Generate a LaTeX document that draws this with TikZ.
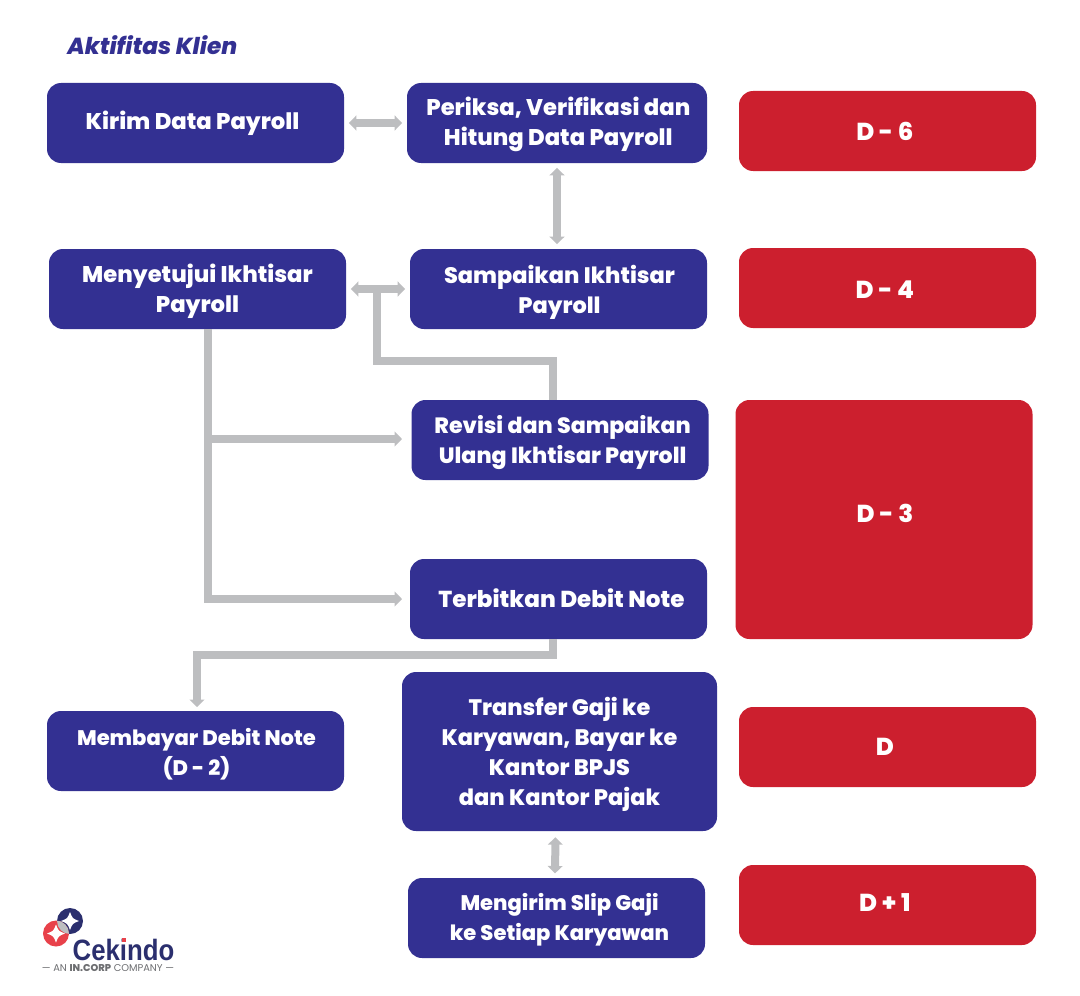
\documentclass[tikz,border=0pt]{standalone}
\usepackage{fontspec}
\setmainfont{Poppins}[BoldFont={Poppins ExtraBold},BoldItalicFont={Poppins ExtraBold Italic}]
\newfontfamily\logofont{Liberation Sans}
\usetikzlibrary{arrows.meta}
\definecolor{navybox}{HTML}{333092}
\definecolor{redbox}{HTML}{CC1F2E}
\definecolor{linkgray}{HTML}{BDBEC0}
\definecolor{logoblue}{HTML}{2B2F6E}
\definecolor{logored}{HTML}{E8414A}
\definecolor{logotext}{HTML}{6D6E71}
\tikzset{
	bluebox/.style={fill=navybox,rounded corners=10.5pt,inner sep=0pt,minimum width=222.75pt,minimum height=60pt},
	redcard/.style={bluebox,fill=redbox},
	boxtext/.style={text=white,inner sep=0pt,align=center,font=\fontsize{#1}{22.5}\selectfont\bfseries},
	boxtext/.default=16.6,
	link/.style={draw=linkgray,line width=6pt,>={Triangle[width=11pt,length=5.5pt]}},
}
\begin{document}
\begin{tikzpicture}[x=0.75pt,y=-0.75pt]
	\useasboundingbox (0,0) rectangle (1080,995);

	\node[text=navybox,inner sep=0pt,font=\fontsize{17.4}{20}\selectfont\bfseries\itshape,anchor=west] (judul) at (67,45.5) {Aktifitas Klien};

	\node[bluebox,label={[boxtext=17,xshift=-2.25pt]center:{Kirim Data Payroll}}] (kirim) at (195.5,123) {};
	\node[bluebox,minimum width=225pt,label={[boxtext=17,xshift=1pt,yshift=-0.75pt]center:{Periksa, Verifikasi dan\\Hitung Data Payroll}}] (periksa) at (557,123) {};
	\node[bluebox,label={[boxtext=17,yshift=-1.5pt]center:{Menyetujui Ikhtisar\\Payroll}}] (setuju) at (197.5,289) {};
	\node[bluebox,label={[boxtext=16.8,xshift=0.75pt,yshift=-2.25pt]center:{Sampaikan Ikhtisar\\Payroll}}] (sampaikan) at (558.5,289) {};
	\node[bluebox,label={[boxtext,xshift=2pt,yshift=-2.25pt]center:{Revisi dan Sampaikan\\Ulang Ikhtisar Payroll}}] (revisi) at (560,440) {};
	\node[bluebox,label={[boxtext=17.3,xshift=2.25pt,yshift=0.75pt]center:{Terbitkan Debit Note}}] (terbit) at (558.5,599) {};
	\node[bluebox,label={[boxtext=15.8,xshift=0.75pt,yshift=-2.25pt]center:{Membayar Debit Note\\(D - 2)}}] (bayar) at (195.5,751) {};
	\node[bluebox,minimum width=236.25pt,minimum height=119.25pt,label={[boxtext=16.8,yshift=-2.25pt]center:{Transfer Gaji ke\\Karyawan, Bayar ke\\Kantor BPJS\\dan Kantor Pajak}}] (transfer) at (559.5,751.5) {};
	\node[bluebox,label={[boxtext=15.8,xshift=2.25pt,yshift=-1.5pt]center:{Mengirim Slip Gaji\\ke Setiap Karyawan}}] (slip) at (556.5,918) {};

	\node[redcard,label={[boxtext=18.4,xshift=-2pt]center:{D - 6}}] (dsix) at (887.5,131) {};
	\node[redcard,label={[boxtext=18.4,xshift=-2pt,yshift=-1.5pt]center:{D - 4}}] (dfour) at (887.5,288) {};
	\node[redcard,minimum height=179.25pt,label={[boxtext=18.4,xshift=0.75pt,yshift=4.5pt]center:{D - 3}}] (dthree) at (884,519.5) {};
	\node[redcard,label={[boxtext=18.4,xshift=-2pt]center:{D}}] (dzero) at (887.5,747) {};
	\node[redcard,label={[boxtext=18.4,xshift=-2pt,yshift=1.5pt]center:{D + 1}}] (dplus) at (887.5,905) {};

	\coordinate (tee) at (377,289);
	\coordinate (belok) at (377,361);
	\coordinate (naik) at (553,361);
	\coordinate (akar) at (208,329);
	\coordinate (cabang) at (208,439);
	\coordinate (siku) at (208,599);

	\draw[link,<->,shorten <=3.5pt,shorten >=3.5pt] (kirim) -- (periksa);
	\draw[link,<->,shorten <=3.5pt,shorten >=3.5pt] (periksa.south) -- (periksa.south |- sampaikan.north);
	\draw[link,<->,shorten <=3.5pt,shorten >=3.5pt] (setuju) -- (sampaikan);
	\draw[link] (naik |- revisi.north) -- (naik) -- (belok) -- (tee);
	\draw[link,->] (akar) -- (siku) -- ++(194,0);
	\draw[link,->] (cabang) -- ++(194,0);
	\draw[link,->] (terbit.south -| naik) -- (553,655) -- (197,655) -- (197,707);
	\draw[link,<->,shorten <=4.5pt,shorten >=3.5pt] (transfer.south -| slip.north) ++(-1,0) -- (555,878);

	% logo
	\fill[logoblue] (70,921) circle [radius=13];
	\fill[logored] (56,933.5) circle [radius=13];
	\begin{scope}
		\clip (70,921) circle [radius=13];
		\fill[linkgray] (56,933.5) circle [radius=13];
	\end{scope}
	\foreach \cx/\cy in {70/921,56/933.5}{
		\fill[white] (\cx,\cy-9) .. controls (\cx+2.5,\cy-2.5) .. (\cx+9,\cy) .. controls (\cx+2.5,\cy+2.5) .. (\cx,\cy+9) .. controls (\cx-2.5,\cy+2.5) .. (\cx-9,\cy) .. controls (\cx-2.5,\cy-2.5) .. (\cx,\cy-9) -- cycle;
	}
	\node[text=logoblue,inner sep=0pt,font=\logofont\bfseries\fontsize{21}{24}\selectfont,anchor=center] (merek) at (123.5,950) {\scalebox{0.92}[1.05]{Cekindo}};
	\fill[logored] (121.5,938) rectangle (125.5,942);
	\node[text=logotext,inner sep=0pt,font=\fontsize{7.4}{9}\selectfont] (anak) at (108,968) {--- AN \textbf{IN.CORP} COMPANY ---};
\end{tikzpicture}
\end{document}
